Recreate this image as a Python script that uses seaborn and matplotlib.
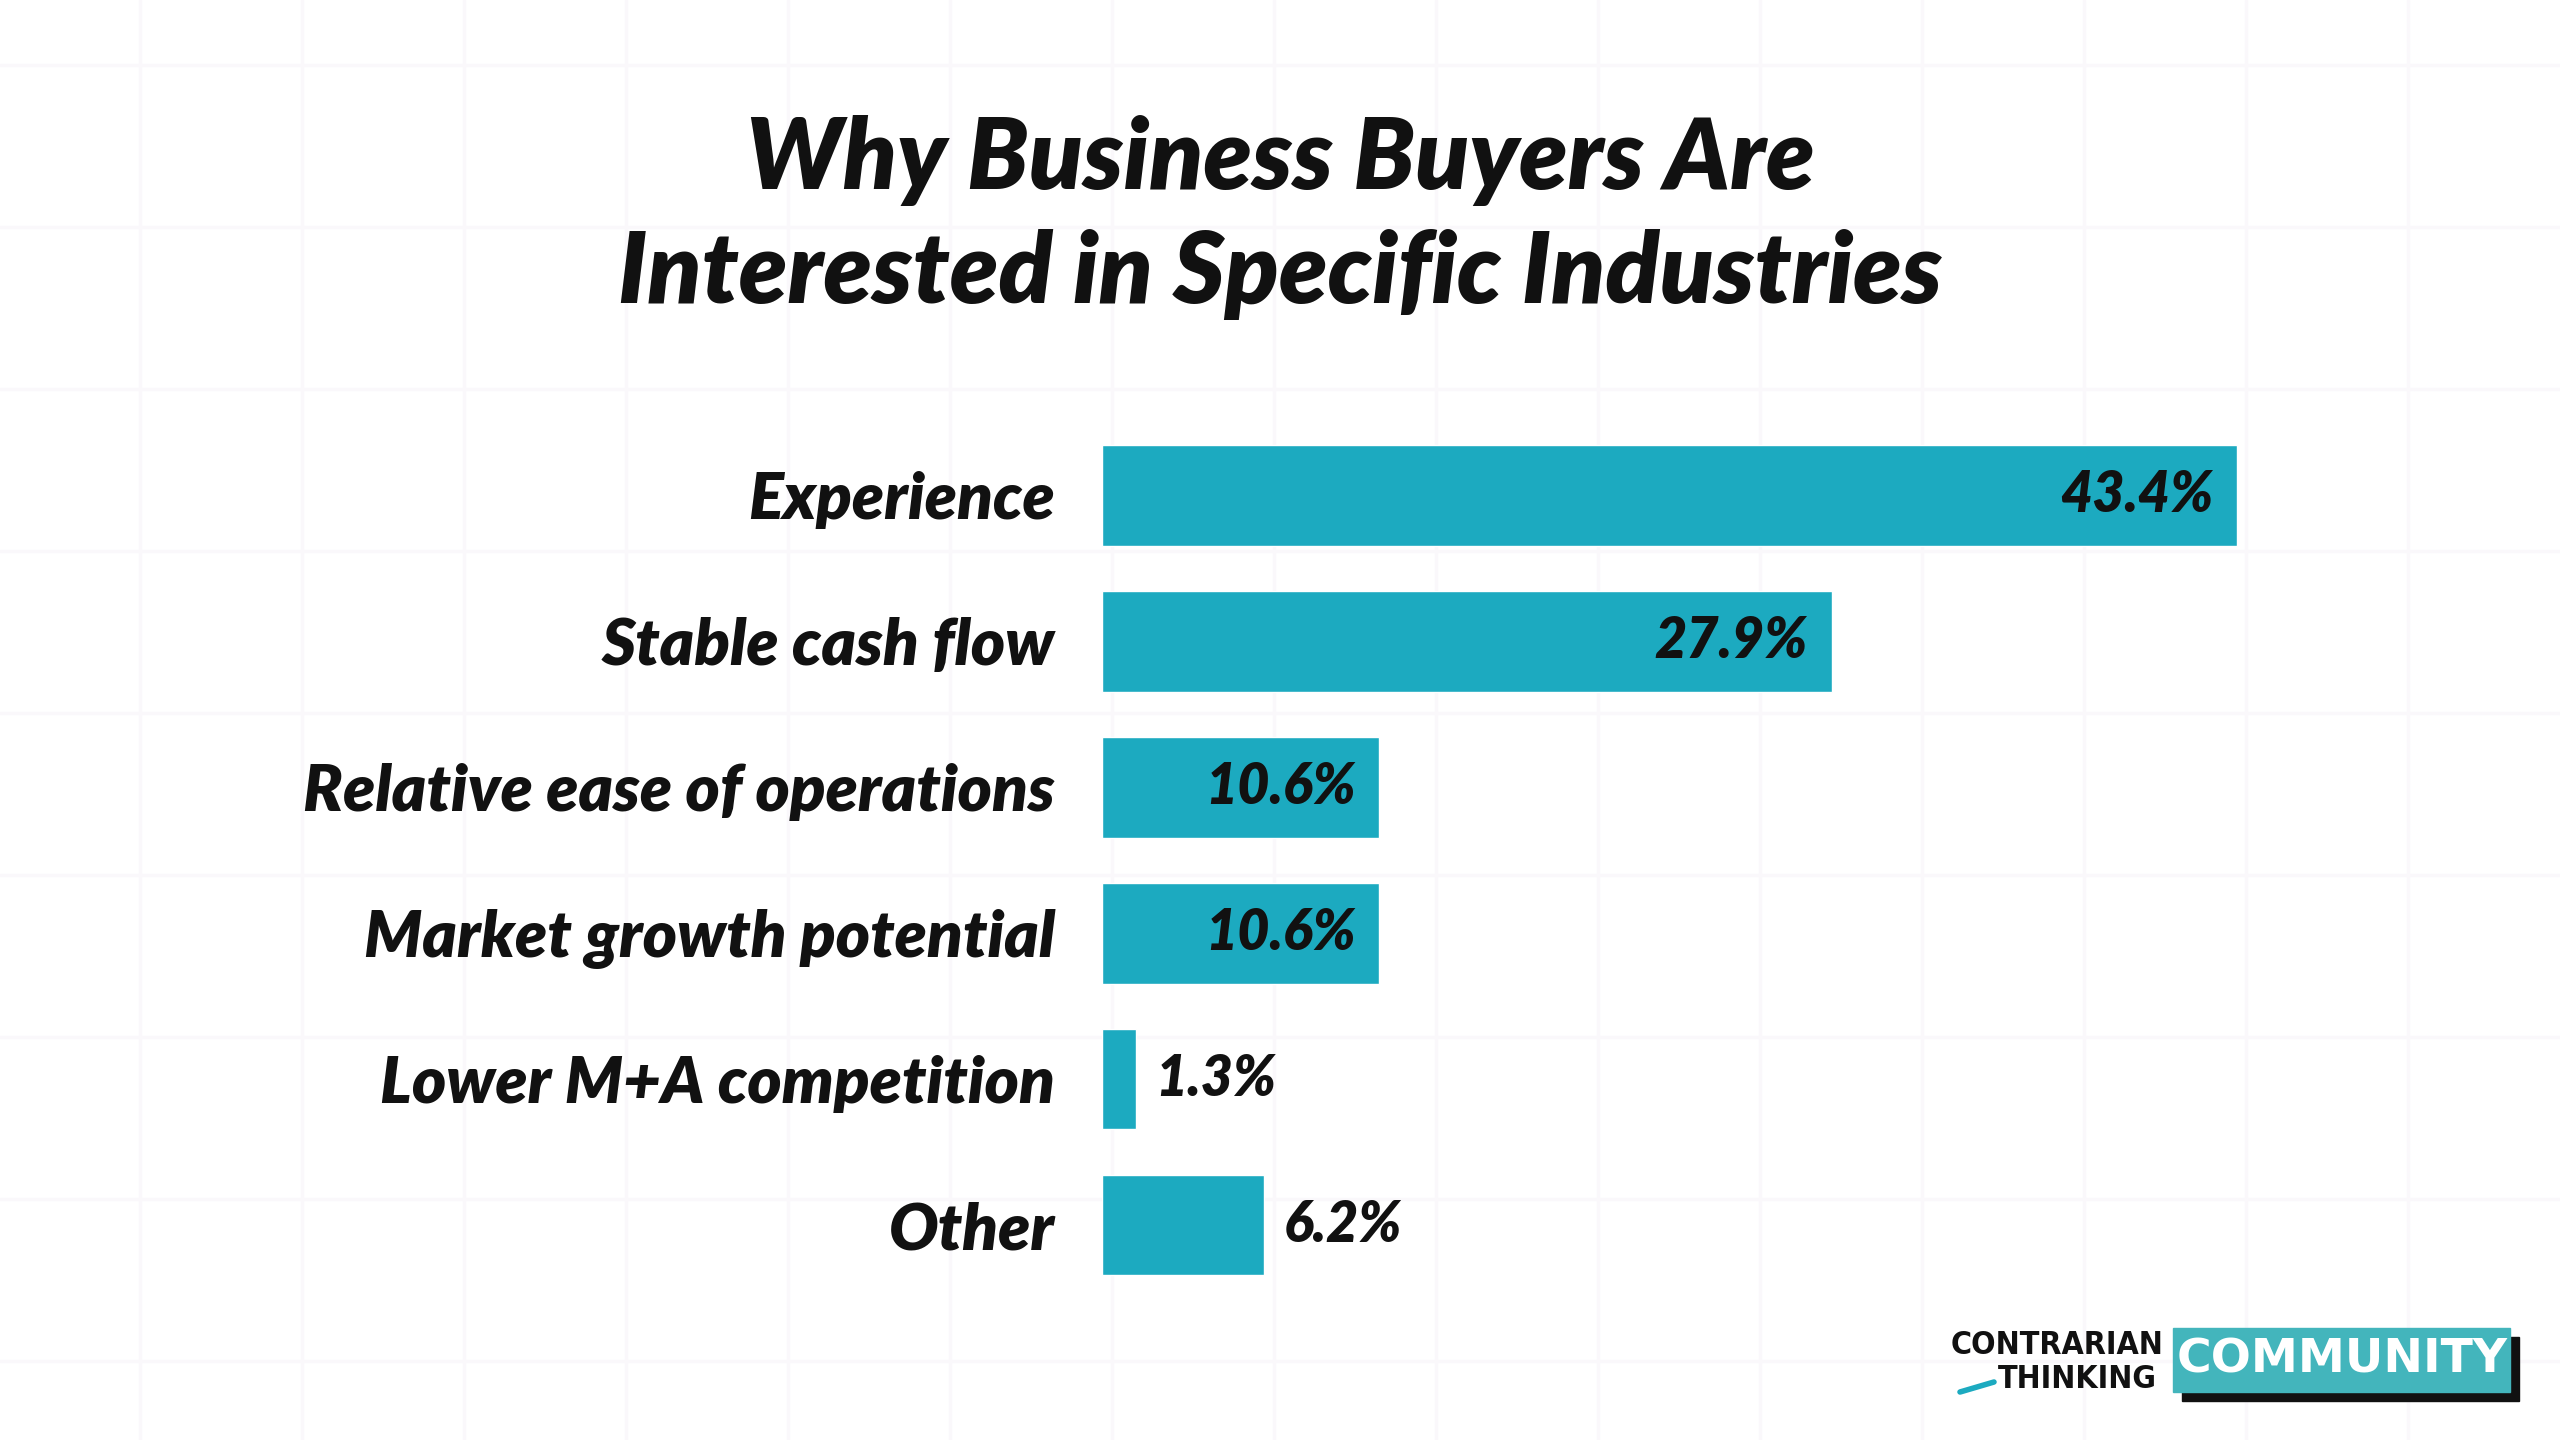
import matplotlib
matplotlib.use("Agg")
import matplotlib.pyplot as plt
from matplotlib.lines import Line2D
from matplotlib.patches import Rectangle
import seaborn as sns
import pandas as pd

# data
reasons = ["Experience", "Stable cash flow", "Relative ease of operations",
           "Market growth potential", "Lower M+A competition", "Other"]
shares = [43.4, 27.9, 10.6, 10.6, 1.3, 6.2]
value_labels = ["43.4%", "27.9%", "10.6%", "10.6%", "1.3%", "6.2%"]

df = pd.DataFrame({"reason": reasons, "share": shares})

sns.set_theme(style="white")
plt.rcParams["font.family"] = ["Lato", "DejaVu Sans"]

W, H = 2560, 1440
fig = plt.figure(figsize=(25.6, 14.4), dpi=100)
fig.patch.set_facecolor("white")

# faint background grid
for x in range(-22, W, 162):
    fig.add_artist(Line2D([x / W, x / W], [0, 1], color="#faf8fb", lw=2.5, zorder=0))
for y in range(65, H, 162):
    fig.add_artist(Line2D([0, 1], [1 - y / H, 1 - y / H], color="#faf8fb", lw=2.5, zorder=0))

ax = fig.add_axes([1102 / W, 0.0986, (2400 - 1102) / W, 0.608])
ax.patch.set_alpha(0)
sns.barplot(data=df, x="share", y="reason", color="#1caac0", saturation=1,
            width=0.69, ax=ax)
ax.set_xlim(0, (2400 - 1102) / 26.15)
ax.set_ylim(5.5, -0.5)
ax.set_xlabel("")
ax.set_ylabel("")
ax.set_xticks([])
sns.despine(ax=ax, left=True, bottom=True)
ax.tick_params(axis="y", length=0, pad=34)
for t in ax.get_yticklabels():
    t.set_fontsize(47)
    t.set_fontweight("heavy")
    t.set_fontstyle("italic")
    t.set_color("#111111")

for i, (v, lab) in enumerate(zip(shares, value_labels)):
    if v > 8:
        ax.text(v - 0.9, i, lab, ha="right", va="center", fontsize=40,
                fontweight="heavy", fontstyle="italic", color="#111111")
    else:
        ax.text(v + 0.75, i, lab, ha="left", va="center", fontsize=40,
                fontweight="heavy", fontstyle="italic", color="#111111")

# title
fig.text(0.5, 1 - 160 / H, "Why Business Buyers Are", ha="center", va="center",
         fontsize=71, fontweight="heavy", fontstyle="italic", color="#111111")
fig.text(0.5, 1 - 275 / H, "Interested in Specific Industries", ha="center", va="center",
         fontsize=71, fontweight="heavy", fontstyle="italic", color="#111111")

# logo
fig.text(2057 / W, 1 - 1346 / H, "CONTRARIAN", ha="center", va="center", fontsize=23,
         fontweight="heavy", fontstretch="condensed", family="DejaVu Sans", color="#111111")
fig.text(2077 / W, 1 - 1380 / H, "THINKING", ha="center", va="center", fontsize=23,
         fontweight="heavy", fontstretch="condensed", family="DejaVu Sans", color="#111111")
fig.add_artist(Line2D([1960 / W, 1994 / W], [1 - 1392 / H, 1 - 1382 / H], color="#1caac0", lw=4))
fig.add_artist(Rectangle((2182 / W, 1 - 1401 / H), 337 / W, 64 / H,
                         transform=fig.transFigure, color="#111111", zorder=1))
fig.add_artist(Rectangle((2173 / W, 1 - 1392 / H), 337 / W, 64 / H,
                         transform=fig.transFigure, color="#43b5bc", zorder=2))
fig.text(2342 / W, 1 - 1360 / H, "COMMUNITY", ha="center", va="center", fontsize=34,
         fontweight="heavy", family="DejaVu Sans", color="white", zorder=3)

fig.savefig("out.png", dpi=100, facecolor="white")
